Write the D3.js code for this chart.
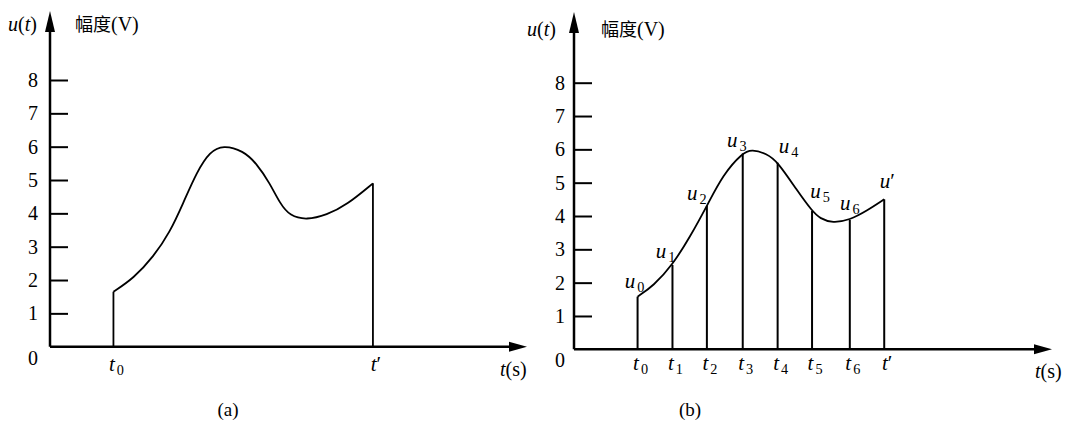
<!DOCTYPE html>
<html><head><meta charset="utf-8">
<script src="https://cdn.jsdelivr.net/npm/d3@7"></script>
<style>
html,body{margin:0;padding:0;background:#fff;}
</style></head>
<body>
<svg id="c" width="1066" height="421" font-family="'Liberation Serif', 'DejaVu Serif', serif"></svg>
<script>
// ---- data ----
const yTickValues = [0,1,2,3,4,5,6,7,8];
// chart (a): continuous signal u(t)
const leftT = [1.33,1.75,2.17,2.52,2.79,3.08,3.35,3.63,4.05,4.33,4.61,4.82,5.03,5.38,5.80,6.22,6.77];
const leftU = [1.65,2.05,2.7,3.45,4.3,5.25,5.85,6.05,5.88,5.5,4.9,4.3,3.92,3.8,3.95,4.25,4.9];
const leftMarkT = [1.33, 6.77];
const leftMarkLabels = [["t","0"],["t","′"]];
// chart (b): sampled signal
const rightT = [1.33,1.66,2.06,2.43,2.78,3.12,3.53,3.72,4.03,4.26,4.66,4.98,5.15,5.41,5.77,6.12,6.49];
const rightU = [1.58,1.9,2.53,3.38,4.3,5.25,5.9,6.0,5.87,5.63,4.78,4.15,3.92,3.79,3.88,4.15,4.5];
const sampleT = [1.33,2.06,2.78,3.53,4.26,4.98,5.77,6.49];
const sampleU = [1.58,2.53,4.3,5.88,5.6,4.15,3.88,4.5];
const sampleTLabels = [["t","0"],["t","1"],["t","2"],["t","3"],["t","4"],["t","5"],["t","6"],["t","′"]];
const sampleULabels = [["u","0"],["u","1"],["u","2"],["u","3"],["u","4"],["u","5"],["u","6"],["u","′"]];

const SERIF = "'Liberation Serif', 'DejaVu Serif', serif";
const CJK = "'Noto Sans CJK SC', sans-serif";
const svg = d3.select("#c");

function drawPanel(cfg){
  const g = svg.append("g");
  const x = d3.scaleLinear().domain([0,10]).range([cfg.x0, cfg.x1]);
  const y = d3.scaleLinear().domain([0,8]).range([cfg.y0, cfg.y8]);
  const ax = cfg.x0, ay = cfg.y0;
  g.append("line").attr("x1",ax).attr("x2",ax).attr("y1",ay).attr("y2",cfg.yTop+14)
    .attr("stroke","#000").attr("stroke-width",2.5);
  g.append("path").attr("d",`M${ax},${cfg.yTop} L${ax-5},${cfg.yTop+21} L${ax+5},${cfg.yTop+21} Z`).attr("fill","#000");
  g.append("line").attr("x1",ax).attr("x2",x(10)-12).attr("y1",ay).attr("y2",ay)
    .attr("stroke","#000").attr("stroke-width",2.5);
  g.append("path").attr("d",`M${x(10)},${ay} L${x(10)-18},${ay-5} L${x(10)-18},${ay+5} Z`).attr("fill","#000");
  const axis = d3.axisRight(y).tickValues(yTickValues.filter(d=>d>0)).tickSize(18).tickFormat("");
  const axg = g.append("g").attr("transform",`translate(${ax},0)`).call(axis);
  axg.select(".domain").remove();
  axg.selectAll(".tick line").attr("stroke","#000").attr("stroke-width",2);
  g.selectAll(".yl").data(yTickValues).enter().append("text")
    .attr("font-family",SERIF)
    .attr("x",cfg.labX).attr("y",d=> d===0 ? y(d)+cfg.zeroOff : y(d))
    .attr("dy","0.35em").attr("text-anchor","middle").attr("font-size",20).text(d=>d);
  const ut = g.append("text").attr("font-family",SERIF).attr("x",cfg.utX).attr("y",cfg.utY).attr("font-size",20);
  ut.append("tspan").attr("font-style","italic").text("u");
  ut.append("tspan").text("(");
  ut.append("tspan").attr("font-style","italic").text("t");
  ut.append("tspan").text(")");
  const amp = g.append("text").attr("font-family",SERIF).attr("x",cfg.ampX).attr("y",cfg.utY).attr("font-size",20);
  amp.append("tspan").attr("font-family",CJK).attr("font-size",18).text("幅度");
  amp.append("tspan").text("(V)");
  const ts = g.append("text").attr("font-family",SERIF).attr("x",cfg.tsX).attr("y",cfg.tsY).attr("font-size",20);
  ts.append("tspan").attr("font-style","italic").text("t");
  ts.append("tspan").text("(s)");
  g.append("text").attr("font-family",SERIF).attr("x",cfg.capX).attr("y",416).attr("text-anchor","middle").attr("font-size",19).text(cfg.cap);
  const line = d3.line().x((d,i)=>x(cfg.T[i])).y(d=>y(d)).curve(d3.curveBasis);
  g.append("path").attr("d",line(cfg.U)).attr("fill","none").attr("stroke","#000").attr("stroke-width",1.8);
  return {g,x,y};
}

function subLabel(g, x, y, parts, size){
  const t = g.append("text").attr("font-family",SERIF).attr("x",x).attr("y",y).attr("font-size",size).attr("text-anchor","middle");
  t.append("tspan").attr("font-style","italic").text(parts[0]);
  if(parts[1]==="′"){
    t.append("tspan").text("′");
  } else {
    t.append("tspan").attr("font-size",size*0.68).attr("dx",2).attr("dy",4).text(parts[1]);
  }
  return t;
}

// ---- panel (a) ----
const A = drawPanel({x0:50,x1:527,y0:346.7,y8:80,yTop:11,labX:33,zeroOff:11,utX:8,utY:31,ampX:75,
  tsX:500,tsY:376,capX:228,cap:"(a)",T:leftT,U:leftU});
A.g.selectAll(".edge").data(leftMarkT).enter().append("line")
  .attr("x1",d=>A.x(d)).attr("x2",d=>A.x(d))
  .attr("y1",A.y(0)).attr("y2",(d,i)=>A.y(i===0?leftU[0]:leftU[leftU.length-1]))
  .attr("stroke","#000").attr("stroke-width",1.8);
leftMarkT.forEach((t,i)=>subLabel(A.g, A.x(t)+3, 371, leftMarkLabels[i], 21));

// ---- panel (b) ----
const B = drawPanel({x0:574,x1:1052,y0:349.3,y8:82.7,yTop:12,labX:560,zeroOff:11,utX:527,utY:36,ampX:601,
  tsX:1035,tsY:378,capX:690,cap:"(b)",T:rightT,U:rightU});
B.g.selectAll(".samp").data(sampleT).enter().append("line")
  .attr("x1",d=>B.x(d)).attr("x2",d=>B.x(d))
  .attr("y1",B.y(0)).attr("y2",(d,i)=>B.y(sampleU[i]))
  .attr("stroke","#000").attr("stroke-width",2);
sampleT.forEach((t,i)=>subLabel(B.g, B.x(t)+3, 370, sampleTLabels[i], 21));
const uOff = [[-3,-9],[-7,-7],[-10,-6],[-6,-6],[11,-10],[8,-13],[0,-10],[3,-11]];
sampleT.forEach((t,i)=>subLabel(B.g, B.x(t)+uOff[i][0], B.y(sampleU[i])+uOff[i][1], sampleULabels[i], 21));
</script>
</body></html>
